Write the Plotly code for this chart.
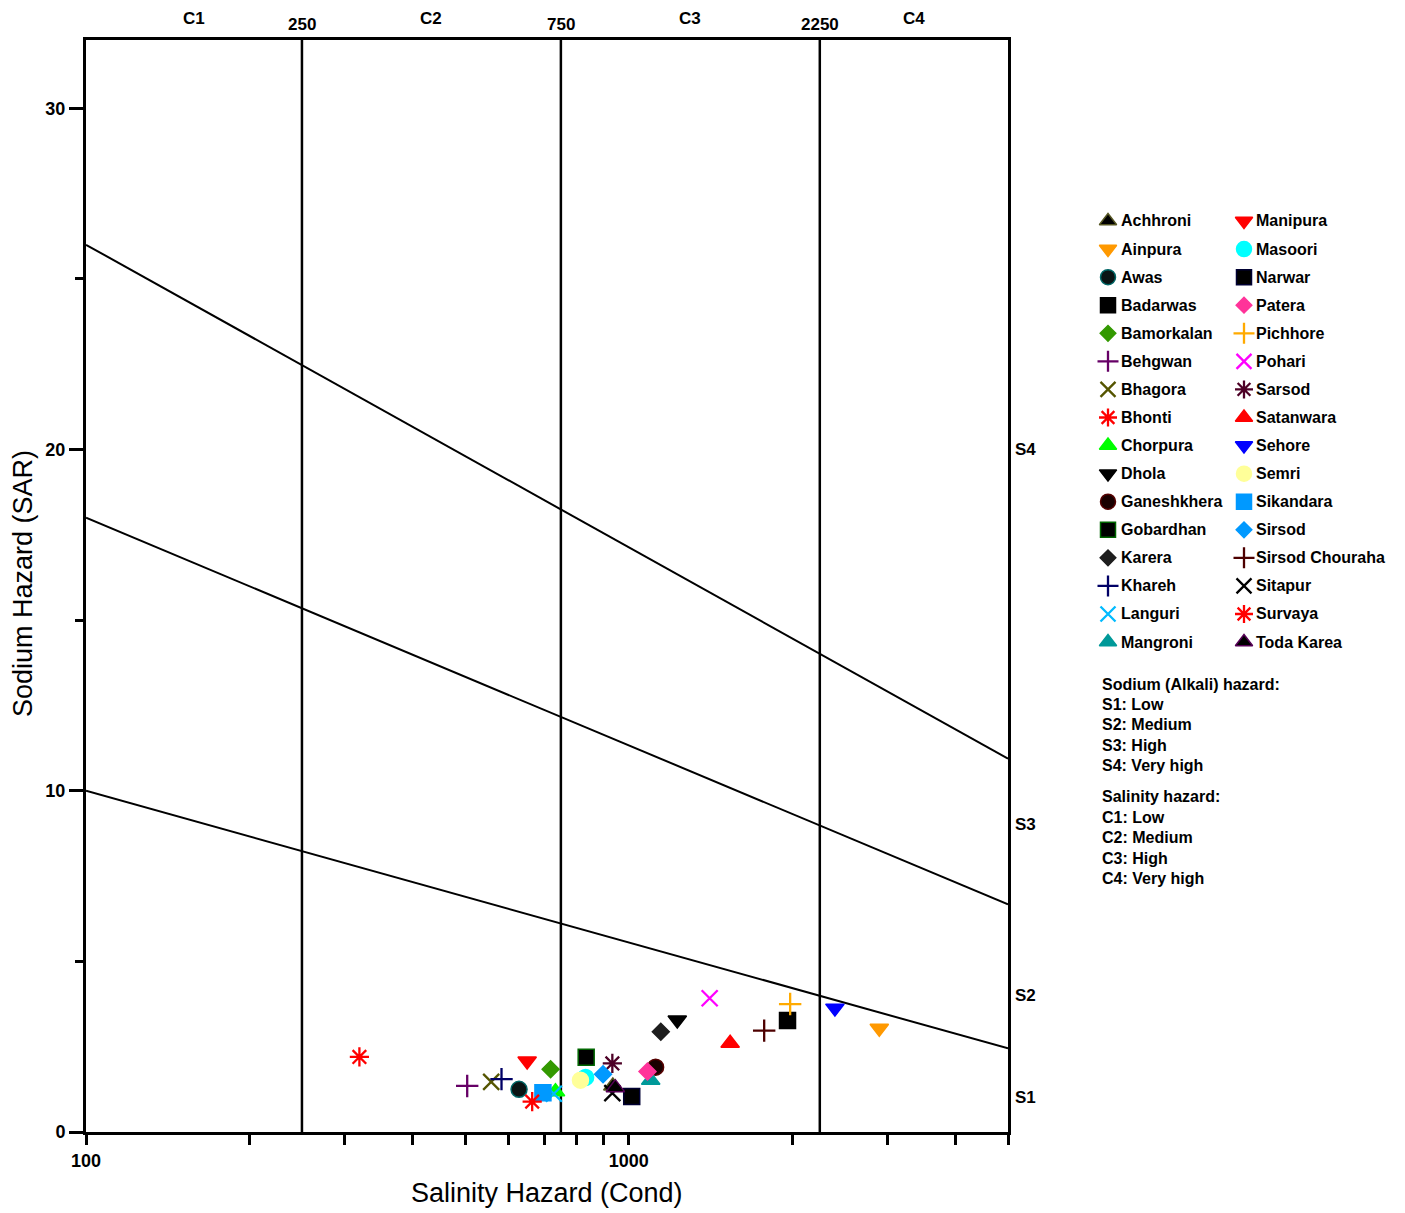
import numpy as np
import plotly.graph_objects as go

W, H = 1405, 1213
OFF = 8  # page body margin: figure is drawn 8px right/down of the window corner

# ---------------- data ----------------
names = ["Achhroni", "Ainpura", "Awas", "Badarwas", "Bamorkalan", "Behgwan", "Bhagora", "Bhonti",
         "Chorpura", "Dhola", "Ganeshkhera", "Gobardhan", "Karera", "Khareh", "Languri", "Mangroni",
         "Manipura", "Masoori", "Narwar", "Patera", "Pichhore", "Pohari", "Sarsod", "Satanwara",
         "Sehore", "Semri", "Sikandara", "Sirsod", "Sirsod Chouraha", "Sitapur", "Survaya", "Toda Karea"]
cond = [935, 2896, 628, 1962, 718, 504, 558, 319,
        733, 1229, 1121, 835, 1146, 583, 728, 1098,
        650, 833, 1013, 1083, 1984, 1410, 933, 1538,
        2399, 815, 695, 897, 1777, 933, 664, 945]
sar = [1.35, 3.04, 1.25, 3.27, 1.84, 1.35, 1.47, 2.20,
       1.18, 3.28, 1.90, 2.19, 2.94, 1.55, 1.12, 1.52,
       2.08, 1.60, 1.04, 1.77, 3.75, 3.92, 2.01, 2.60,
       3.63, 1.52, 1.15, 1.69, 2.97, 1.14, 0.89, 1.30]
symbols = ["triangle-up", "triangle-down", "circle", "square", "diamond", "cross-thin", "x-thin", "asterisk",
           "triangle-up", "triangle-down", "circle", "square", "diamond", "cross-thin", "x-thin", "triangle-up",
           "triangle-down", "circle", "square", "diamond", "cross-thin", "x-thin", "asterisk", "triangle-up",
           "triangle-down", "circle", "square", "diamond", "cross-thin", "x-thin", "asterisk", "triangle-up"]
fills = ["#000000", "#FF9900", "#0A1414", "#000000", "#339900", "#660066", "#555500", "#FF0000",
         "#00FF00", "#000000", "#1A0000", "#000000", "#1E1E1E", "#000066", "#00BBFF", "#009999",
         "#FF0000", "#00FFFF", "#000000", "#FF3399", "#FFAA00", "#FF00FF", "#4D0026", "#FF0000",
         "#0000FF", "#FFFF99", "#0099FF", "#0099FF", "#4D0000", "#000000", "#FF0000", "#000000"]
edges = ["#555522", "#FF9900", "#006666", "#000000", "#339900", "#660066", "#555500", "#FF0000",
         "#00FF00", "#000000", "#550000", "#006600", "#1E1E1E", "#000066", "#00BBFF", "#009999",
         "#FF0000", "#00FFFF", "#000033", "#FF3399", "#FFAA00", "#FF00FF", "#4D0026", "#FF0000",
         "#0000FF", "#FFFF99", "#0099FF", "#0099FF", "#4D0000", "#000000", "#FF0000", "#550055"]

x_range = [100, 5000]
y_range = [0, 32]
class_bounds = [250, 750, 2250]
class_labels = ["C1", "C2", "C3", "C4"]
boundary_cond = [100, 5000]
boundary_sar = [[10.0, 2.45], [18.0, 6.67], [26.0, 10.94]]
s_labels = ["S1", "S2", "S3", "S4"]
s_label_sar = [1.0, 4.0, 9.0, 20.0]
y_major = [0, 10, 20, 30]
y_minor = [5, 15, 25]
x_ticks = [100, 200, 300, 400, 500, 600, 700, 800, 900, 1000, 2000, 3000, 4000, 5000]
x_ticktext = ["100", "", "", "", "", "", "", "", "", "1000", "", "", "", ""]
hazard_s = ["Sodium (Alkali) hazard:", "S1: Low", "S2: Medium", "S3: High", "S4: Very high"]
hazard_c = ["Salinity hazard:", "C1: Low", "C2: Medium", "C3: High", "C4: Very high"]

# ---------------- layout constants (window pixels) ----------------
L, R, T, B = 86, 1008, 40, 1132
FONT = "Liberation Sans, Arial, sans-serif"
line_syms = {"cross-thin", "x-thin", "asterisk"}


def px(x):
    return (x - OFF) / W


def py(y):
    return 1 - (y - OFF) / H


fig = go.Figure()

for b in class_bounds:
    fig.add_trace(go.Scatter(x=[b, b], y=y_range, mode="lines",
                             line=dict(color="black", width=2.5), showlegend=False, hoverinfo="skip"))
for s in boundary_sar:
    fig.add_trace(go.Scatter(x=boundary_cond, y=s, mode="lines",
                             line=dict(color="black", width=2), showlegend=False, hoverinfo="skip"))


def marker_for(i, size):
    sym = symbols[i]
    if sym in line_syms:
        return dict(symbol=sym, size=size, color=fills[i], line=dict(color=fills[i], width=2.3))
    if sym == "diamond":
        size = size - 3
    return dict(symbol=sym, size=size, color=fills[i], line=dict(color=edges[i], width=1.5))


for i, n in enumerate(names):
    fig.add_trace(go.Scatter(x=[cond[i]], y=[sar[i]], mode="markers", name=n,
                             marker=marker_for(i, 16), showlegend=False, cliponaxis=False))

# custom two-column legend (overlay axis in window pixels)
rows = 16
row0, dy = 221, 28.07
col_mx = [1108, 1244]
col_tx = [1119, 1254]
for i, n in enumerate(names):
    c, r = divmod(i, rows)
    yp = row0 + r * dy
    fig.add_trace(go.Scatter(x=[col_mx[c]], y=[yp], mode="markers", marker=marker_for(i, 15),
                             xaxis="x2", yaxis="y2", showlegend=False, hoverinfo="skip", cliponaxis=False))
    fig.add_annotation(x=px(col_tx[c]), y=py(yp), xref="paper", yref="paper", text=n,
                       showarrow=False, xanchor="left", yanchor="middle",
                       font=dict(family=FONT, size=16, color="black", weight="bold"))

# top class labels
edges_c = [x_range[0]] + class_bounds + [x_range[1]]
for k, lab in enumerate(class_labels):
    mid = np.sqrt(edges_c[k] * edges_c[k + 1])
    fig.add_annotation(x=np.log10(mid), y=py(18), xref="x", yref="paper", text=lab, showarrow=False,
                       font=dict(family=FONT, size=17, color="black", weight="bold"), yanchor="middle")
for b in class_bounds:
    fig.add_annotation(x=np.log10(b), y=py(24), xref="x", yref="paper", text=str(b), showarrow=False,
                       font=dict(family=FONT, size=17, color="black", weight="bold"), yanchor="middle")
# right S labels
for lab, v in zip(s_labels, s_label_sar):
    fig.add_annotation(x=px(R + 5), y=v, xref="paper", yref="y", text=lab, showarrow=False,
                       xanchor="left", yanchor="middle",
                       font=dict(family=FONT, size=17, color="black", weight="bold"))
# hazard text blocks
for block, first in [(hazard_s, 684), (hazard_c, 797)]:
    for j, line in enumerate(block):
        fig.add_annotation(x=px(1100), y=py(first + j * 20.4), xref="paper", yref="paper",
                           text=line, showarrow=False, xanchor="left", yanchor="middle",
                           font=dict(family=FONT, size=16, color="black", weight="bold"))
# axis titles
fig.add_annotation(x=px((L + R) / 2), y=py(1193), xref="paper", yref="paper",
                   text="Salinity Hazard (Cond)", showarrow=False, yanchor="middle",
                   font=dict(family=FONT, size=27, color="black"))
fig.add_annotation(x=px(23), y=py(584), xref="paper", yref="paper",
                   text="Sodium Hazard (SAR)", showarrow=False, textangle=-90, xanchor="center",
                   yanchor="middle", font=dict(family=FONT, size=27, color="black"))

fig.update_layout(
    width=W, height=H, margin=dict(l=0, r=0, t=0, b=0, autoexpand=False),
    paper_bgcolor="white", plot_bgcolor="rgba(0,0,0,0)", showlegend=False,
    xaxis=dict(type="log", range=[np.log10(x_range[0]), np.log10(x_range[1])],
               domain=[px(L), px(R)], anchor="y", showgrid=False, zeroline=False,
               showline=True, linecolor="black", linewidth=3, mirror=True, automargin=False,
               tickmode="array", tickvals=x_ticks, ticktext=x_ticktext,
               ticks="outside", ticklen=10, tickwidth=2.5, tickcolor="black",
               tickfont=dict(family=FONT, size=18, color="black", weight="bold")),
    yaxis=dict(range=y_range, domain=[py(B), py(T)], anchor="x", showgrid=False,
               zeroline=False, showline=True, linecolor="black", linewidth=3, mirror=True,
               automargin=False,
               tickmode="array", tickvals=y_major, ticks="outside", ticklen=14, tickwidth=2.5,
               tickcolor="black", minor=dict(tickvals=y_minor, ticks="outside", ticklen=8,
                                             tickwidth=2.5, tickcolor="black"),
               tickfont=dict(family=FONT, size=18, color="black", weight="bold")),
    xaxis2=dict(range=[OFF, W + OFF], domain=[0, 1], anchor="y2", visible=False, fixedrange=True),
    yaxis2=dict(range=[H + OFF, OFF], domain=[0, 1], anchor="x2", visible=False, fixedrange=True),
)

fig.write_html("out.html")
